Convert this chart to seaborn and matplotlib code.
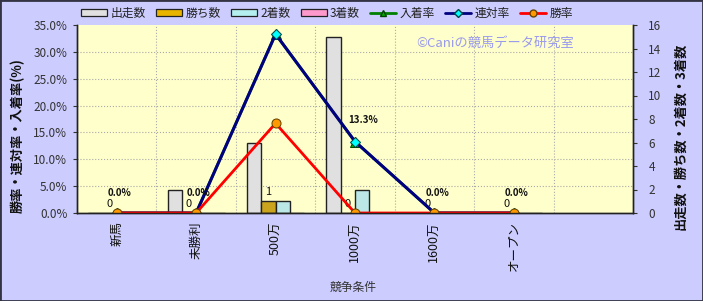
import matplotlib
matplotlib.use("Agg")
import matplotlib.pyplot as plt
import seaborn as sns
import numpy as np
import pandas as pd
from matplotlib.patches import Patch, Rectangle
from matplotlib.lines import Line2D
from matplotlib.ticker import FixedLocator

# ---------------- data ----------------
categories = ['新馬', '未勝利', '500万', '1000万', '1600万', 'オープン']
starts = [0, 2, 6, 15, 0, 0]          # 出走数
wins = [0, 0, 1, 0, 0, 0]             # 勝ち数
seconds = [0, 0, 1, 2, 0, 0]          # 2着数
thirds = [0, 0, 0, 0, 0, 0]           # 3着数
place_rate = [0.0, 0.0, 33.3, 13.3, 0.0, 0.0]   # 入着率
rentai_rate = [0.0, 0.0, 33.3, 13.3, 0.0, 0.0]  # 連対率
win_rate = [0.0, 0.0, 16.7, 0.0, 0.0, 0.0]      # 勝率
win_rate_labels = ['0.0%', '0.0%', '', '', '0.0%', '0.0%']
rentai_labels = ['', '', '', '13.3%', '', '']
count_series = ['出走数', '勝ち数', '2着数', '3着数']

sns.set_style("white")
plt.rcParams['font.family'] = ['Noto Sans CJK JP', 'DejaVu Sans']

BG = '#CCCCFF'
PLOT_BG = '#FFFFCC'
bar_colors = ['#E0E0E0', '#E8B400', '#B4EEEE', '#FF99CC']

df = pd.DataFrame({
    '条件': categories * 4,
    '数': starts + wins + seconds + thirds,
    '系列': sum([[s] * len(categories) for s in count_series], []),
})
order = categories + [' ']

fig = plt.figure(figsize=(7.03, 3.01), dpi=100, facecolor=BG)
ax = fig.add_axes([77 / 703, (301 - 213) / 301, (633 - 77) / 703, (213 - 25) / 301])
ax.set_facecolor(PLOT_BG)

sns.barplot(data=df, x='条件', y='数', hue='系列', order=order, hue_order=count_series,
            palette=bar_colors, width=0.72, edgecolor='#222222', linewidth=1.0,
            ax=ax, legend=False, zorder=2)

ax2 = ax.twinx()

ax.set_ylim(0, 16)
ax.set_xlim(-0.5, 6.5)
ax.yaxis.tick_right()
ax.yaxis.set_label_position('right')
ax.set_yticks(range(0, 17, 2))
ax.set_xticks(range(len(categories)))
ax.set_xticklabels(categories, rotation=90, fontsize=9, color='#111111')
ax.tick_params(axis='y', labelsize=8.5, colors='#333333', length=3, direction='out', pad=8)
ax.tick_params(axis='x', length=0, pad=6)
# gridlines aligned to the percent axis, behind bars
ax.yaxis.set_minor_locator(FixedLocator([p * 16 / 35 for p in range(5, 35, 5)]))
ax.xaxis.set_minor_locator(FixedLocator([i + 0.5 for i in range(6)]))
ax.grid(which='minor', color='#AAAAAA', linestyle=':', linewidth=0.8, zorder=0)
ax.tick_params(which='minor', length=0)
ax.set_axisbelow(True)
ax.set_xlabel('競争条件', fontsize=8.5, color='#333333')
ax.xaxis.set_label_coords(0.497, -0.36)
ax.set_ylabel('出走数・勝ち数・2着数・3着数', fontsize=9.5, rotation=90,
              color='#111111', fontweight='bold')
ax.yaxis.set_label_coords(1.072, 0.41)

# win count labels on 勝ち数 bars
ax.bar_label(ax.containers[1], labels=[str(w) for w in wins], padding=3, fontsize=8, color='#111111')

ax2.yaxis.tick_left()
ax2.yaxis.set_label_position('left')
pos = np.arange(len(categories))
sns.lineplot(x=pos, y=place_rate, ax=ax2, color='#008000', linewidth=2,
             marker='^', markersize=7, markerfacecolor='#00AA00', markeredgecolor='#004400')
sns.lineplot(x=pos, y=rentai_rate, ax=ax2, color='#000080', linewidth=2.2,
             marker='D', markersize=5.5, markerfacecolor='#00FFFF', markeredgecolor='#004444')
sns.lineplot(x=pos, y=win_rate, ax=ax2, color='#FF0000', linewidth=2,
             marker='o', markersize=6.5, markerfacecolor='#FF9900', markeredgecolor='#664400')
ax2.set_ylim(0, 35)
ax2.set_xlim(-0.5, 6.5)
ax2.set_yticks(range(0, 36, 5))
ax2.set_yticklabels([f'{v:.1f}%' for v in range(0, 36, 5)])
ax2.tick_params(axis='y', labelsize=8.5, colors='#333333', length=3, direction='out', pad=4)
ax2.set_ylabel('勝率・連対率・入着率(%)', fontsize=9.5, rotation=90,
               color='#111111', fontweight='bold')
ax2.yaxis.set_label_coords(-0.093, 0.41)

for i, lab in enumerate(win_rate_labels):
    if lab:
        ax2.annotate(lab, (pos[i], win_rate[i]), xytext=(2, 11), textcoords='offset points',
                     ha='center', va='bottom', fontsize=7, fontweight='bold', color='#111111')
for i, lab in enumerate(rentai_labels):
    if lab:
        ax2.annotate(lab, (pos[i], rentai_rate[i]), xytext=(6, 12), textcoords='offset points',
                     ha='center', va='bottom', fontsize=7, fontweight='bold', color='#111111')

for a in (ax, ax2):
    a.spines['top'].set_visible(False)
    for s in ('left', 'right', 'bottom'):
        a.spines[s].set_color('#222222')
        a.spines[s].set_linewidth(1)

ax2.text(0.752, 0.905, '©Caniの競馬データ研究室', transform=ax2.transAxes, ha='center', va='center',
         fontsize=9.5, color='#9999EE')

handles = [Patch(facecolor=c, edgecolor='#222222', linewidth=0.9) for c in bar_colors]
handles += [
    Line2D([], [], color='#008000', linewidth=2, marker='^', markersize=5,
           markerfacecolor='#00AA00', markeredgecolor='#004400'),
    Line2D([], [], color='#000080', linewidth=2, marker='D', markersize=4,
           markerfacecolor='#00FFFF', markeredgecolor='#004444'),
    Line2D([], [], color='#FF0000', linewidth=2, marker='o', markersize=5,
           markerfacecolor='#FF9900', markeredgecolor='#664400'),
]
labels = count_series + ['入着率', '連対率', '勝率']
fig.legend(handles, labels, loc='center', bbox_to_anchor=(327 / 703, 1 - 13 / 301), ncol=7,
           frameon=False, fontsize=8.5, handlelength=2.2, handleheight=0.55, handletextpad=0.3,
           columnspacing=0.85, labelcolor='#222222')

fig.patches.append(Rectangle((0, 0), 1, 1, transform=fig.transFigure, fill=False,
                             edgecolor='#333344', linewidth=2))

fig.savefig('out.png', dpi=100, facecolor=BG)
